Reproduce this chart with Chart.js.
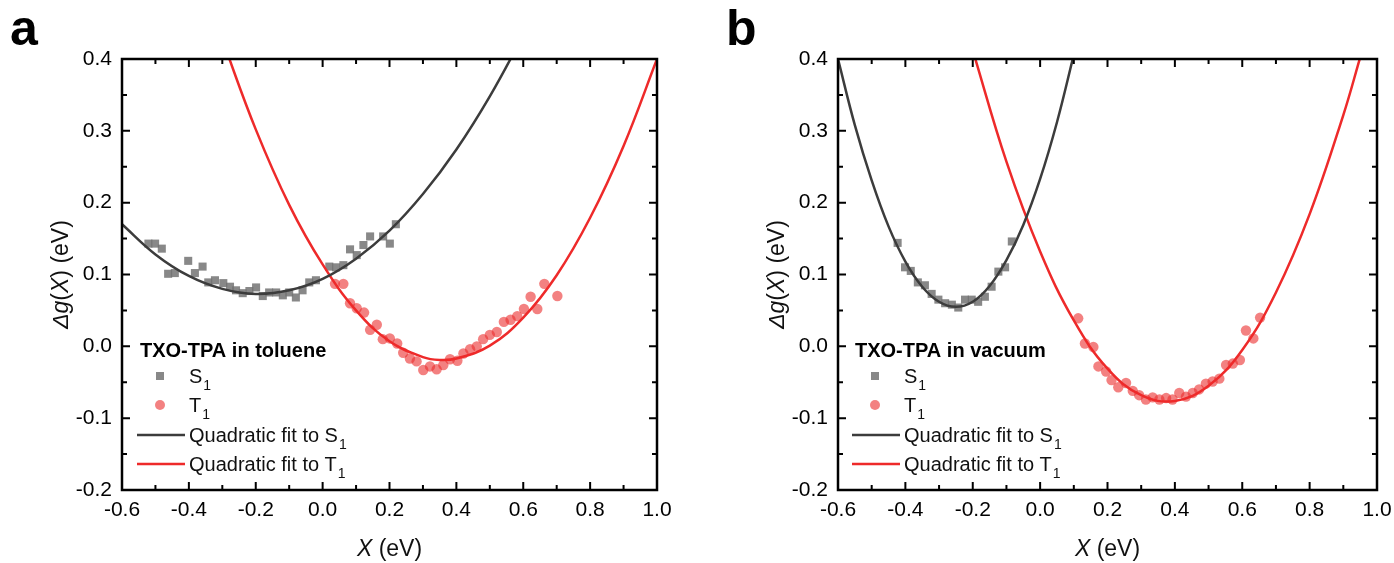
<!DOCTYPE html>
<html>
<head>
<meta charset="utf-8">
<script src="https://cdn.jsdelivr.net/npm/chart.js"></script>
<style>
  body { margin: 0; background: #fff; }
  #wrap { position: relative; width: 1394px; height: 563px; }
  canvas { position: absolute; top: 0; }
  #chartA { left: 0; }
  #chartB { left: 697px; }
</style>
</head>
<body>
<div id="wrap">
  <canvas id="chartA" width="697" height="563"></canvas>
  <canvas id="chartB" width="697" height="563"></canvas>
</div>
<script>
// axis ranges
const xMin = -0.6, xMax = 1.0, xStep = 0.2;
const yMin = -0.2, yMax = 0.4, yStep = 0.1;

// (a) TXO-TPA in toluene
const tolS1X = [-0.521, -0.501, -0.481, -0.462, -0.442, -0.402, -0.382, -0.359, -0.342, -0.322, -0.297, -0.277, -0.259, -0.239, -0.219, -0.199, -0.179, -0.160, -0.139, -0.119, -0.100, -0.080, -0.060, -0.040, -0.020, 0.020, 0.040, 0.062, 0.082, 0.102, 0.122, 0.142, 0.181, 0.201, 0.219];
const tolS1Y = [0.143, 0.143, 0.136, 0.101, 0.102, 0.119, 0.102, 0.111, 0.089, 0.092, 0.088, 0.083, 0.078, 0.074, 0.077, 0.082, 0.070, 0.075, 0.075, 0.071, 0.075, 0.068, 0.078, 0.089, 0.092, 0.111, 0.110, 0.113, 0.135, 0.127, 0.141, 0.153, 0.153, 0.143, 0.170];
const tolT1X = [0.037, 0.062, 0.082, 0.102, 0.124, 0.142, 0.162, 0.180, 0.201, 0.223, 0.241, 0.261, 0.281, 0.301, 0.321, 0.341, 0.361, 0.381, 0.403, 0.421, 0.441, 0.461, 0.480, 0.500, 0.521, 0.542, 0.562, 0.582, 0.602, 0.622, 0.642, 0.663, 0.702];
const tolT1Y = [0.087, 0.087, 0.060, 0.053, 0.047, 0.023, 0.030, 0.010, 0.011, 0.004, -0.009, -0.017, -0.021, -0.033, -0.028, -0.032, -0.026, -0.018, -0.020, -0.010, -0.004, 0.000, 0.010, 0.016, 0.020, 0.034, 0.037, 0.042, 0.052, 0.069, 0.052, 0.087, 0.070];
const tolFitS1X = [-0.6, -0.5, -0.4, -0.3, -0.2, -0.1, 0.0, 0.1, 0.2, 0.3, 0.4, 0.5, 0.6];
const tolFitS1Y = [0.170, 0.128, 0.098, 0.080, 0.073, 0.078, 0.094, 0.122, 0.161, 0.212, 0.274, 0.348, 0.433];
const tolFitT1X = [-0.3, -0.2, -0.1, 0.0, 0.1, 0.2, 0.3, 0.35, 0.4, 0.5, 0.6, 0.7, 0.8, 0.9, 1.0];
const tolFitT1Y = [0.427, 0.302, 0.197, 0.114, 0.050, 0.007, -0.015, -0.019, -0.017, 0.001, 0.040, 0.099, 0.179, 0.279, 0.400];

// (b) TXO-TPA in vacuum
const vacS1X = [-0.423, -0.401, -0.384, -0.363, -0.342, -0.322, -0.302, -0.282, -0.262, -0.243, -0.223, -0.203, -0.184, -0.164, -0.144, -0.124, -0.104, -0.084];
const vacS1Y = [0.144, 0.110, 0.105, 0.089, 0.085, 0.073, 0.065, 0.060, 0.058, 0.054, 0.065, 0.065, 0.062, 0.069, 0.083, 0.104, 0.110, 0.146];
const vacT1X = [0.113, 0.133, 0.158, 0.173, 0.196, 0.212, 0.232, 0.255, 0.275, 0.294, 0.314, 0.334, 0.354, 0.374, 0.393, 0.413, 0.433, 0.453, 0.472, 0.492, 0.512, 0.532, 0.552, 0.572, 0.593, 0.611, 0.633, 0.653];
const vacT1Y = [0.039, 0.004, -0.001, -0.028, -0.035, -0.047, -0.057, -0.051, -0.062, -0.068, -0.074, -0.071, -0.074, -0.072, -0.074, -0.065, -0.070, -0.065, -0.060, -0.052, -0.049, -0.045, -0.026, -0.024, -0.019, 0.022, 0.011, 0.040];
const vacFitS1X = [-0.6, -0.55, -0.5, -0.45, -0.4, -0.35, -0.3, -0.25, -0.2, -0.15, -0.1, -0.05, 0.0, 0.05, 0.1];
const vacFitS1Y = [0.400, 0.308, 0.231, 0.167, 0.118, 0.083, 0.062, 0.055, 0.062, 0.084, 0.120, 0.169, 0.233, 0.312, 0.406];
const vacFitT1X = [-0.2, -0.1, 0.0, 0.1, 0.2, 0.3, 0.4, 0.5, 0.6, 0.7, 0.8, 0.9, 0.95];
const vacFitT1Y = [0.412, 0.257, 0.132, 0.036, -0.031, -0.068, -0.076, -0.055, -0.005, 0.075, 0.184, 0.322, 0.402];

const FONT = '"Liberation Sans", Arial, sans-serif';
const grayPt = 'rgba(115,115,115,0.85)';
const redPt = 'rgba(235,45,45,0.6)';
const grayLine = '#3c3c3c';
const redLine = '#ee2a2a';

function pts(xs, ys) {
  return xs.map((x, i) => ({ x: x, y: ys[i] }));
}

function fmt(v) {
  if (Math.abs(v) < 1e-9) v = 0;
  return v.toFixed(1);
}

// text with a subscript
function subText(ctx, x, y, main, sub) {
  ctx.font = '20px ' + FONT;
  ctx.fillText(main, x, y);
  const w = ctx.measureText(main).width;
  ctx.font = '14px ' + FONT;
  ctx.fillText(sub, x + w + 1, y + 7);
}

// runs of normal / italic text, centred on x
function runs(ctx, parts, x, y, size) {
  let total = 0;
  parts.forEach(p => {
    ctx.font = (p[1] ? 'italic ' : '') + size + 'px ' + FONT;
    total += ctx.measureText(p[0]).width;
  });
  let cx = x - total / 2;
  parts.forEach(p => {
    ctx.font = (p[1] ? 'italic ' : '') + size + 'px ' + FONT;
    ctx.fillText(p[0], cx, y);
    cx += ctx.measureText(p[0]).width;
  });
}

const framePlugin = {
  id: 'frame',
  afterDraw(chart, args, opts) {
    const ctx = chart.ctx, a = chart.chartArea;
    const sx = chart.scales.x, sy = chart.scales.y;
    ctx.save();
    ctx.strokeStyle = '#000';
    ctx.lineWidth = 2.5;
    ctx.strokeRect(a.left, a.top, a.right - a.left, a.bottom - a.top);

    // inward ticks on all four sides
    ctx.lineWidth = 2;
    for (let i = 0; i <= 16; i++) {
      const px = sx.getPixelForValue(xMin + i * 0.1);
      const len = i % 2 === 0 ? 8 : 5;
      ctx.beginPath();
      ctx.moveTo(px, a.bottom); ctx.lineTo(px, a.bottom - len);
      ctx.moveTo(px, a.top); ctx.lineTo(px, a.top + len);
      ctx.stroke();
    }
    for (let i = 0; i <= 12; i++) {
      const py = sy.getPixelForValue(yMin + i * 0.05);
      const len = i % 2 === 0 ? 8 : 5;
      ctx.beginPath();
      ctx.moveTo(a.left, py); ctx.lineTo(a.left + len, py);
      ctx.moveTo(a.right, py); ctx.lineTo(a.right - len, py);
      ctx.stroke();
    }

    // panel letter
    ctx.fillStyle = '#000';
    ctx.textBaseline = 'alphabetic';
    ctx.font = 'bold 50px ' + FONT;
    ctx.fillText(opts.letter, opts.letterX, 45);

    // axis titles
    ctx.fillStyle = '#111';
    ctx.textBaseline = 'middle';
    runs(ctx, [['X', true], [' (eV)', false]], (a.left + a.right) / 2, 550, 23);
    ctx.save();
    ctx.translate(a.left - 60, (a.top + a.bottom) / 2);
    ctx.rotate(-Math.PI / 2);
    runs(ctx, [['\u0394g', true], ['(', false], ['X', true], [') (eV)', false]], 0, 0, 23);
    ctx.restore();

    // legend
    const L = a.left;
    ctx.fillStyle = '#000';
    ctx.textBaseline = 'alphabetic';
    ctx.font = 'bold 20px ' + FONT;
    ctx.fillText(opts.title, L + opts.dx, 357);

    ctx.fillStyle = grayPt;
    ctx.fillRect(L + opts.dx + 20 - 4, 376 - 4, 8, 8);
    ctx.fillStyle = redPt;
    ctx.beginPath();
    ctx.arc(L + opts.dx + 20, 405, 5, 0, Math.PI * 2);
    ctx.fill();

    ctx.lineWidth = 2.5;
    ctx.strokeStyle = grayLine;
    ctx.beginPath(); ctx.moveTo(L + opts.dx - 3, 435); ctx.lineTo(L + opts.dx + 45, 435); ctx.stroke();
    ctx.strokeStyle = redLine;
    ctx.beginPath(); ctx.moveTo(L + opts.dx - 3, 464); ctx.lineTo(L + opts.dx + 45, 464); ctx.stroke();

    ctx.fillStyle = '#111';
    const tx = L + opts.dx + 49;
    subText(ctx, tx, 383, 'S', '1');
    subText(ctx, tx, 412, 'T', '1');
    subText(ctx, tx, 442, 'Quadratic fit to S', '1');
    subText(ctx, tx, 471, 'Quadratic fit to T', '1');
    ctx.restore();
  }
};

function makeChart(id, d) {
  return new Chart(document.getElementById(id), {
    type: 'scatter',
    data: {
      datasets: [
        { data: pts(d.fitS1X, d.fitS1Y), showLine: true, tension: 0.4, borderColor: grayLine, borderWidth: 2.5, pointRadius: 0 },
        { data: pts(d.fitT1X, d.fitT1Y), showLine: true, tension: 0.4, borderColor: redLine, borderWidth: 2.5, pointRadius: 0 },
        { data: pts(d.t1X, d.t1Y), pointStyle: 'circle', pointRadius: 5.2, backgroundColor: redPt, borderWidth: 0 },
        { data: pts(d.s1X, d.s1Y), pointStyle: 'rect', pointRadius: 5.7, backgroundColor: grayPt, borderWidth: 0 }
      ]
    },
    options: {
      responsive: false,
      animation: false,
      events: [],
      layout: { padding: { left: 0, right: d.padRight, top: 59, bottom: 0 } },
      plugins: {
        legend: { display: false },
        tooltip: { enabled: false },
        frame: { letter: d.letter, letterX: d.letterX, title: d.title, dx: d.dx }
      },
      scales: {
        x: {
          type: 'linear', min: xMin, max: xMax,
          grid: { display: false, drawTicks: false },
          border: { display: false },
          ticks: { stepSize: xStep, padding: 8, color: '#000', font: { family: FONT, size: 21 }, callback: fmt, maxRotation: 0 },
          afterFit(s) { s.height = 73; s.paddingLeft = 0; s.paddingRight = 0; }
        },
        y: {
          type: 'linear', min: yMin, max: yMax,
          grid: { display: false, drawTicks: false },
          border: { display: false },
          ticks: { stepSize: yStep, padding: 10, color: '#000', font: { family: FONT, size: 21 }, callback: fmt },
          afterFit(s) { s.width = d.left; s.paddingTop = 0; s.paddingBottom = 0; }
        }
      }
    },
    plugins: [framePlugin]
  });
}

makeChart('chartA', {
  s1X: tolS1X, s1Y: tolS1Y, t1X: tolT1X, t1Y: tolT1Y,
  fitS1X: tolFitS1X, fitS1Y: tolFitS1Y, fitT1X: tolFitT1X, fitT1Y: tolFitT1Y,
  left: 122, padRight: 40, letter: 'a', letterX: 10, title: 'TXO-TPA in toluene', dx: 18
});
makeChart('chartB', {
  s1X: vacS1X, s1Y: vacS1Y, t1X: vacT1X, t1Y: vacT1Y,
  fitS1X: vacFitS1X, fitS1Y: vacFitS1Y, fitT1X: vacFitT1X, fitT1Y: vacFitT1Y,
  left: 141, padRight: 17, letter: 'b', letterX: 29, title: 'TXO-TPA in vacuum', dx: 17
});
</script>
</body>
</html>
